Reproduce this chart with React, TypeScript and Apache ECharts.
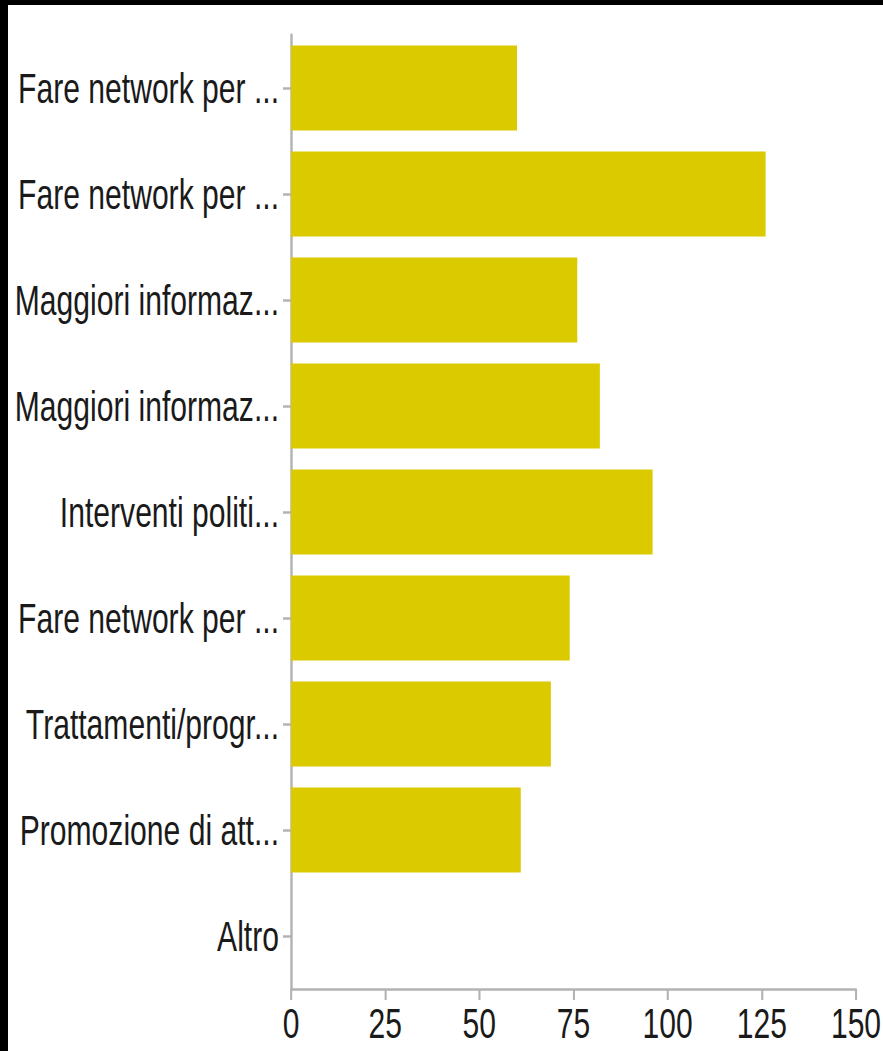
import React, { useEffect, useRef } from "react";
import * as echarts from "echarts";

const categories: string[] = [
  "Fare network per ...",
  "Fare network per ...",
  "Maggiori informaz...",
  "Maggiori informaz...",
  "Interventi politi...",
  "Fare network per ...",
  "Trattamenti/progr...",
  "Promozione di att...",
  "Altro",
];
const values: number[] = [60, 126, 76, 82, 96, 74, 69, 61, 0];
const xTicks = { min: 0, max: 150, interval: 25 };

// The reference's lettering is horizontally compressed; the chart is drawn wider and squeezed.
const SX = 0.7;
const W = 875;
const H = 1046;
const FONT = "'Liberation Sans', Arial, sans-serif";

export default function App() {
  const ref = useRef<HTMLDivElement>(null);
  useEffect(() => {
    if (!ref.current) return;
    const chart = echarts.init(ref.current, undefined, { renderer: "svg" });
    chart.setOption({
      animation: false,
      backgroundColor: "#ffffff",
      grid: {
        left: 283 / SX,
        right: 27 / SX,
        top: 30,
        bottom: 62,
        containLabel: false,
        outerBoundsMode: "none",
      },
      xAxis: {
        type: "value",
        min: xTicks.min,
        max: xTicks.max,
        interval: xTicks.interval,
        splitLine: { show: false },
        axisLine: { show: true, lineStyle: { color: "#b3b3b3", width: 2.5 } },
        axisTick: { show: true, length: 11, lineStyle: { color: "#b3b3b3", width: 3 } },
        axisLabel: { color: "#1a1a1a", fontSize: 43, fontFamily: FONT, margin: 12 },
      },
      yAxis: {
        type: "category",
        data: categories,
        inverse: true,
        axisLine: { show: true, lineStyle: { color: "#b3b3b3", width: 3.5 } },
        axisTick: {
          show: true,
          alignWithLabel: true,
          length: 8 / SX,
          lineStyle: { color: "#b3b3b3", width: 2.5 },
        },
        axisLabel: { color: "#1a1a1a", fontSize: 43, fontFamily: FONT, margin: 12 / SX },
      },
      series: [
        {
          type: "bar",
          data: values,
          barCategoryGap: "20%",
          itemStyle: { color: "#dcca00" },
        },
      ],
    });
    return () => chart.dispose();
  }, []);
  return (
    <div style={{ position: "absolute", left: 0, top: 0, width: 883, height: 1051, background: "#000", overflow: "hidden" }}>
      <div style={{ position: "absolute", left: 8, top: 5, width: W, height: H, background: "#fff", overflow: "hidden" }}>
        <div
          ref={ref}
          style={{
            position: "absolute",
            left: 0,
            top: 0,
            width: W / SX,
            height: H,
            transform: `scaleX(${SX})`,
            transformOrigin: "0 0",
          }}
        />
      </div>
    </div>
  );
}
